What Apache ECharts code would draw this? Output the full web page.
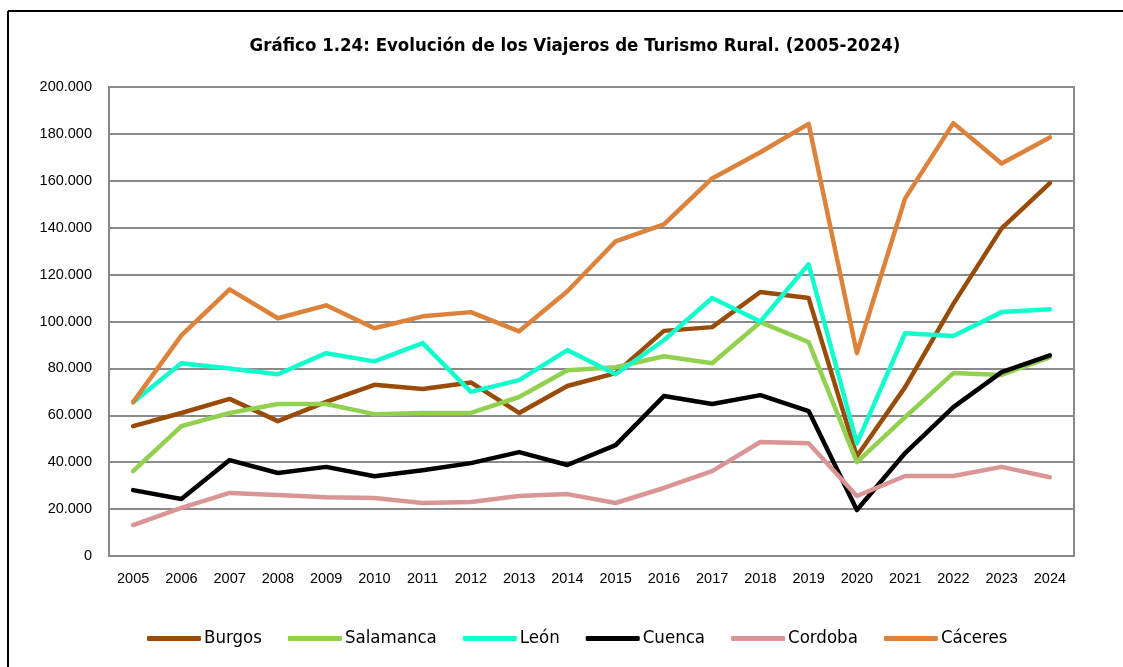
<!DOCTYPE html>
<html>
<head>
<meta charset="utf-8">
<script src="https://cdn.jsdelivr.net/npm/echarts@6/dist/echarts.min.js"></script>
<style>
  html, body { margin: 0; padding: 0; background: #fff; }
  #chart { width: 1123px; height: 667px; }
</style>
</head>
<body>
<div id="chart"></div>
<script>
// años
const years = ['2005', '2006', '2007', '2008', '2009', '2010', '2011', '2012', '2013', '2014',
  '2015', '2016', '2017', '2018', '2019', '2020', '2021', '2022', '2023', '2024'];

// viajeros por provincia
const burgos = [55400, 61000, 67000, 57500, 65700, 73000, 71200, 74000, 61000, 72500,
  78000, 96000, 97600, 112600, 110000, 42500, 72000, 107500, 139700, 159000];
const salamanca = [36200, 55400, 61000, 64800, 64800, 60500, 61000, 61000, 67800, 79200,
  80500, 85200, 82200, 99700, 91200, 40000, 59200, 78000, 77200, 84800];
const leon = [65600, 82200, 80000, 77500, 86500, 83000, 90800, 70000, 75000, 87800,
  77500, 92000, 110000, 100000, 124400, 48000, 95000, 93800, 104000, 105200];
const cuenca = [28100, 24300, 40900, 35400, 38000, 34000, 36600, 39600, 44300, 38800,
  47300, 68200, 64800, 68600, 61800, 19600, 43900, 63500, 78400, 85600];
const cordoba = [13200, 20500, 26900, 26000, 25100, 24700, 22600, 23000, 25600, 26400,
  22600, 29000, 36200, 48600, 48100, 25600, 34100, 34100, 38000, 33600];
const caceres = [65600, 94100, 113700, 101400, 106900, 97100, 102200, 104000, 95800, 112900,
  134200, 141400, 161000, 172200, 184300, 86500, 152500, 184600, 167400, 178500];

const yTicks = [0, 20000, 40000, 60000, 80000, 100000, 120000, 140000, 160000, 180000, 200000];

const chart = echarts.init(document.getElementById('chart'));

function serie(name, data, color) {
  return {
    name: name,
    type: 'line',
    data: data,
    showSymbol: false,
    symbol: 'none',
    lineStyle: { width: 4.5, color: color, cap: 'round', join: 'round' },
    itemStyle: { color: color },
    animation: false
  };
}

function fmt(v) {
  if (v === 0) return '0';
  return String(v).replace(/\B(?=(\d{3})+(?!\d))/g, '.');
}

chart.setOption({
  backgroundColor: '#fff',
  title: {
    text: 'Gráfico 1.24: Evolución de los Viajeros de Turismo Rural. (2005-2024)',
    left: 570,
    top: 32,
    textAlign: 'center',
    textStyle: {
      fontFamily: 'DejaVu Sans Condensed',
      fontWeight: 'bold',
      fontSize: 18.5,
      color: '#000'
    }
  },
  graphic: [
    { type: 'line', shape: { x1: 8, y1: 11, x2: 8, y2: 667 }, style: { stroke: '#000', lineWidth: 2 } },
    { type: 'line', shape: { x1: 8, y1: 11, x2: 1123, y2: 11 }, style: { stroke: '#000', lineWidth: 2 } }
  ],
  grid: {
    left: 109,
    right: 49,
    top: 87,
    bottom: 111,
    show: true,
    borderColor: '#888',
    borderWidth: 2
  },
  legend: {
    bottom: 14,
    left: 142,
    icon: 'roundRect',
    itemWidth: 54,
    itemHeight: 5,
    itemGap: 26,
    textStyle: {
      fontFamily: 'DejaVu Sans Condensed',
      fontSize: 18.5,
      color: '#000',
      padding: [0, 0, 0, -2]
    },
    data: ['Burgos', 'Salamanca', 'León', 'Cuenca', 'Cordoba', 'Cáceres']
  },
  xAxis: {
    type: 'category',
    data: years,
    boundaryGap: true,
    axisLine: { show: true, lineStyle: { color: '#888', width: 2 } },
    axisTick: { show: false },
    axisLabel: {
      fontFamily: 'Liberation Sans',
      fontSize: 14.5,
      color: '#000',
      margin: 15,
      interval: 0
    }
  },
  yAxis: {
    type: 'value',
    min: yTicks[0],
    max: yTicks[yTicks.length - 1],
    interval: 20000,
    axisLine: { show: true, lineStyle: { color: '#888', width: 2 } },
    axisTick: { show: false },
    splitLine: { lineStyle: { color: '#8a8a8a', width: 2 } },
    axisLabel: {
      fontFamily: 'Liberation Sans',
      fontSize: 14.5,
      color: '#000',
      margin: 17,
      formatter: fmt
    }
  },
  series: [
    serie('Burgos', burgos, '#994C0A'),
    serie('Salamanca', salamanca, '#92D050'),
    serie('León', leon, '#10FFCC'),
    serie('Cuenca', cuenca, '#000000'),
    serie('Cordoba', cordoba, '#D99694'),
    serie('Cáceres', caceres, '#DC823A')
  ]
});
</script>
</body>
</html>
